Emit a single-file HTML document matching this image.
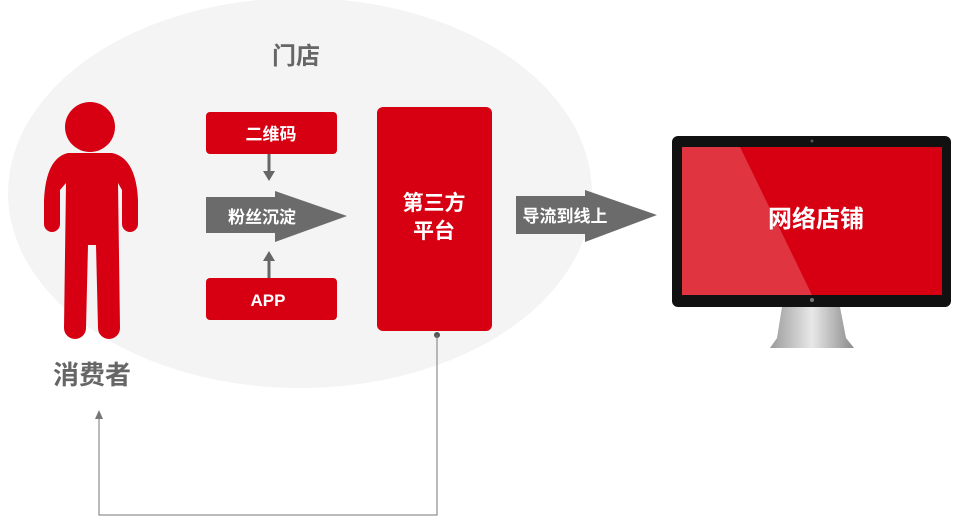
<!DOCTYPE html>
<html><head><meta charset="utf-8"><style>
body{margin:0;background:#fff;width:963px;height:517px;overflow:hidden}
text{font-family:"Liberation Sans","Noto Sans CJK SC",sans-serif;font-weight:bold}
</style></head><body>
<svg width="963" height="517" viewBox="0 0 963 517">
<defs>
<linearGradient id="st" x1="0" x2="1"><stop offset="0" stop-color="#9a9a9a"/><stop offset=".5" stop-color="#e8e8e8"/><stop offset="1" stop-color="#8a8a8a"/></linearGradient>
</defs>
<ellipse cx="300" cy="193" rx="292" ry="195" fill="#f4f4f4"/>
<text x="296" y="64" font-size="24" fill="#666" text-anchor="middle">门店</text>
<!-- person -->
<circle cx="90" cy="127" r="25" fill="#d60012"/>
<path d="M68,153 H112 Q136,158 138,200 V224 a8,8 0 0 1 -16,0 V190 L118,183 L120,328 a11,11 0 0 1 -22,0 L96,245 H88 L86,328 a11,11 0 0 1 -22,0 L66,183 L60,190 V224 a8,8 0 0 1 -16,0 V200 Q46,158 68,153Z" fill="#d60012"/>
<text x="92" y="384" font-size="26" fill="#666" text-anchor="middle">消费者</text>
<!-- boxes -->
<rect x="206" y="112" width="131" height="42" rx="4" fill="#d60012"/>
<text x="271" y="140" font-size="17" fill="#fff" text-anchor="middle">二维码</text>
<rect x="206" y="278" width="131" height="42" rx="4" fill="#d60012"/>
<text x="268" y="306" font-size="17" fill="#fff" text-anchor="middle">APP</text>
<line x1="269" y1="154" x2="269" y2="172" stroke="#666" stroke-width="3"/>
<path d="M263,171 H275 L269,181Z" fill="#666"/>
<line x1="269" y1="278" x2="269" y2="260" stroke="#666" stroke-width="3"/>
<path d="M263,261 H275 L269,251Z" fill="#666"/>
<path d="M206,197 H275 V191 L347,216 L275,242 V233 H206Z" fill="#6b6b6b"/>
<text x="262" y="223" font-size="17" fill="#fff" text-anchor="middle">粉丝沉淀</text>
<rect x="377" y="107" width="115" height="224" rx="6" fill="#d60012"/>
<text x="434" y="210" font-size="21" fill="#fff" text-anchor="middle">第三方</text>
<text x="434" y="238" font-size="21" fill="#fff" text-anchor="middle">平台</text>
<path d="M516,196 H585 V190 L657,215 L585,242 V234 H516Z" fill="#6b6b6b"/>
<text x="565" y="222" font-size="17" fill="#fff" text-anchor="middle">导流到线上</text>
<!-- feedback -->
<circle cx="437" cy="335" r="3" fill="#555"/>
<polyline points="437,335 437,515 99,515 99,418" fill="none" stroke="#777" stroke-width="1"/>
<path d="M95,419 L99,410 L103,419Z" fill="#777"/>
<!-- monitor -->
<path d="M782,307 H840 L846,338 L854,348 H770 L777,338Z" fill="url(#st)"/>
<rect x="672" y="136" width="279" height="171" rx="6" fill="#111"/>
<rect x="682" y="147" width="260" height="148" fill="#d60012"/>
<path d="M682,147 H740 L812,295 H682Z" fill="#e03540"/>
<circle cx="812" cy="141" r="1.5" fill="#555"/>
<circle cx="812" cy="300" r="2" fill="#777"/>
<text x="816" y="227" font-size="24" fill="#fff" text-anchor="middle">网络店铺</text>
</svg>
</body></html>
